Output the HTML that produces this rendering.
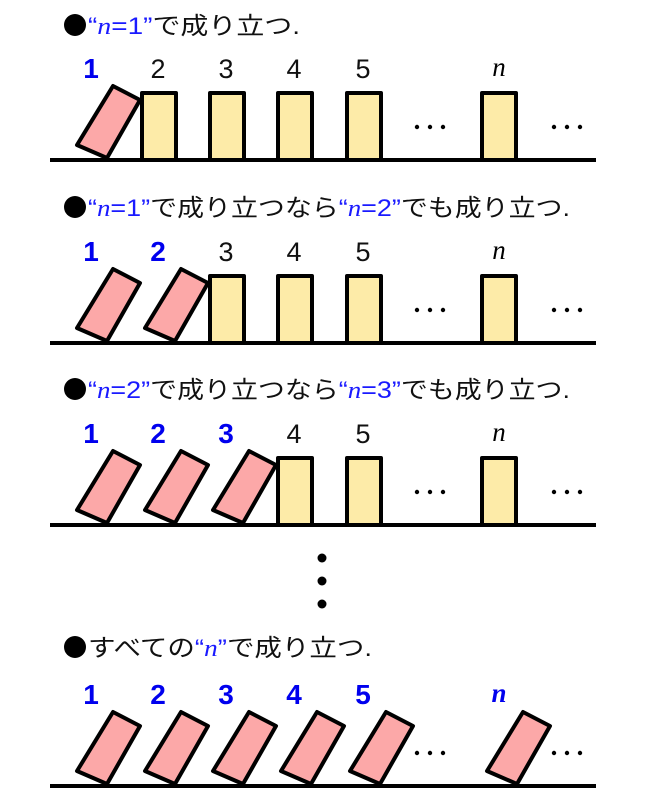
<!DOCTYPE html>
<html><head><meta charset="utf-8"><style>
html,body{margin:0;padding:0;background:#fff}
svg{display:block}
.h{font-family:"Liberation Sans","Noto Sans CJK JP",sans-serif;font-size:24px;fill:#111}
.b{fill:#1a1aff}
.it{font-family:"Liberation Serif",serif;font-style:italic}
.lb{font-family:"Liberation Sans",sans-serif;font-size:28px;font-weight:bold;fill:#0000ee;text-anchor:middle}
.ln{font-family:"Liberation Sans",sans-serif;font-size:27px;fill:#111;text-anchor:middle}
.nn{font-family:"Liberation Serif","DejaVu Serif",serif;font-style:italic;font-size:27px;text-anchor:middle}
.s{fill:#fdeba8;stroke:#000;stroke-width:4;stroke-linejoin:round}
.f{fill:#fca8a8;stroke:#000;stroke-width:4;stroke-linejoin:round}
</style></head><body>
<svg width="646" height="799" viewBox="0 0 646 799" xmlns="http://www.w3.org/2000/svg">
<defs>
<polygon id="fd" class="f" points="0,-2 -30,-15 6,-74 33,-60"/>
<rect id="sd" class="s" x="0" y="-67" width="34" height="67"/>
<g id="dots"><circle cx="417" cy="-33" r="2.2"/><circle cx="430" cy="-33" r="2.2"/><circle cx="443" cy="-33" r="2.2"/><circle cx="554" cy="-33" r="2.2"/><circle cx="567" cy="-33" r="2.2"/><circle cx="580" cy="-33" r="2.2"/></g>
</defs>

<!-- Row 1 -->
<circle cx="75" cy="25" r="11"/>
<text class="h" x="88" y="34" textLength="212" lengthAdjust="spacingAndGlyphs"><tspan class="b">“<tspan class="it">n</tspan>=1”</tspan>で成り立つ.</text>
<g transform="translate(0,160)">
<text class="lb" x="91" y="-82">1</text>
<text class="ln" x="158" y="-82">2</text><text class="ln" x="226" y="-82">3</text><text class="ln" x="294" y="-82">4</text><text class="ln" x="363" y="-82">5</text><text class="nn" x="499" y="-84">n</text>
<use href="#fd" x="107"/>
<use href="#sd" x="142"/><use href="#sd" x="210"/><use href="#sd" x="278"/><use href="#sd" x="347"/><use href="#sd" x="482"/>
<use href="#dots"/>
<rect x="50" y="-2" width="546" height="4"/>
</g>

<!-- Row 2 -->
<circle cx="75" cy="207" r="11"/>
<text class="h" x="88" y="216" textLength="482" lengthAdjust="spacingAndGlyphs"><tspan class="b">“<tspan class="it">n</tspan>=1”</tspan>で成り立つなら<tspan class="b">“<tspan class="it">n</tspan>=2”</tspan>でも成り立つ.</text>
<g transform="translate(0,343)">
<text class="lb" x="91" y="-82">1</text><text class="lb" x="158" y="-82">2</text>
<text class="ln" x="226" y="-82">3</text><text class="ln" x="294" y="-82">4</text><text class="ln" x="363" y="-82">5</text><text class="nn" x="499" y="-84">n</text>
<use href="#fd" x="107"/><use href="#fd" x="175"/>
<use href="#sd" x="210"/><use href="#sd" x="278"/><use href="#sd" x="347"/><use href="#sd" x="482"/>
<use href="#dots"/>
<rect x="50" y="-2" width="546" height="4"/>
</g>

<!-- Row 3 -->
<circle cx="75" cy="389" r="11"/>
<text class="h" x="88" y="398" textLength="482" lengthAdjust="spacingAndGlyphs"><tspan class="b">“<tspan class="it">n</tspan>=2”</tspan>で成り立つなら<tspan class="b">“<tspan class="it">n</tspan>=3”</tspan>でも成り立つ.</text>
<g transform="translate(0,525)">
<text class="lb" x="91" y="-82">1</text><text class="lb" x="158" y="-82">2</text><text class="lb" x="226" y="-82">3</text>
<text class="ln" x="294" y="-82">4</text><text class="ln" x="363" y="-82">5</text><text class="nn" x="499" y="-84">n</text>
<use href="#fd" x="107"/><use href="#fd" x="175"/><use href="#fd" x="243"/>
<use href="#sd" x="278"/><use href="#sd" x="347"/><use href="#sd" x="482"/>
<use href="#dots"/>
<rect x="50" y="-2" width="546" height="4"/>
</g>

<circle cx="322" cy="558" r="4.5"/><circle cx="322" cy="581" r="4.5"/><circle cx="322" cy="604" r="4.5"/>

<!-- Row 4 -->
<circle cx="75" cy="647" r="11"/>
<text class="h" x="88" y="656" textLength="284" lengthAdjust="spacingAndGlyphs">すべての<tspan class="b">“<tspan class="it">n</tspan>”</tspan>で成り立つ.</text>
<g transform="translate(0,786)">
<text class="lb" x="91" y="-82">1</text><text class="lb" x="158" y="-82">2</text><text class="lb" x="226" y="-82">3</text><text class="lb" x="294" y="-82">4</text><text class="lb" x="363" y="-82">5</text>
<text class="nn" x="499" y="-84" style="font-weight:bold;fill:#0000ee">n</text>
<use href="#fd" x="107"/><use href="#fd" x="175"/><use href="#fd" x="243"/><use href="#fd" x="311"/><use href="#fd" x="380"/><use href="#fd" x="517"/>
<use href="#dots"/>
<rect x="50" y="-2" width="546" height="4"/>
</g>
</svg>
</body></html>
